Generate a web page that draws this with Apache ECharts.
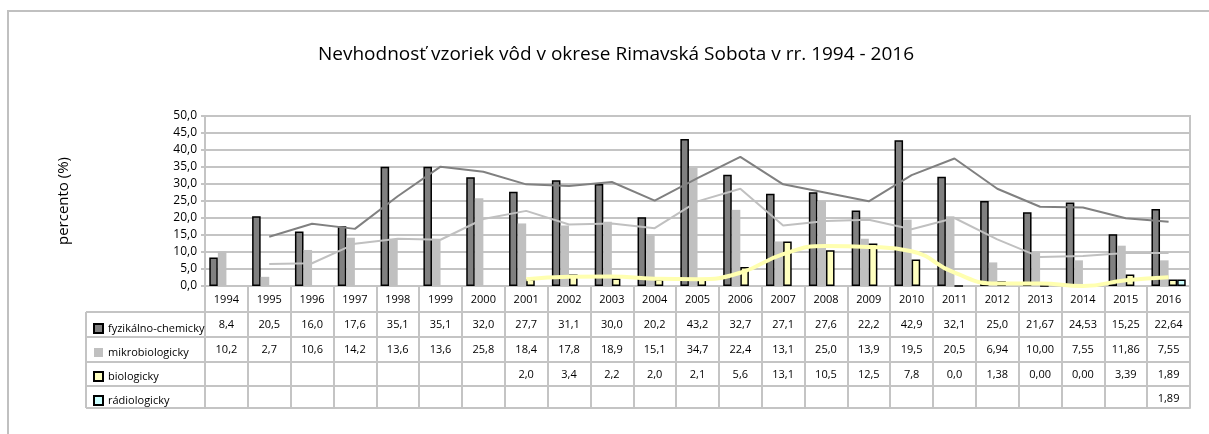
<!DOCTYPE html>
<html>
<head>
<meta charset="utf-8">
<script src="https://cdn.jsdelivr.net/npm/echarts@6/dist/echarts.min.js"></script>
<style>
  html, body { margin: 0; padding: 0; background: #fff; }
  #main { width: 1209px; height: 434px; }
</style>
</head>
<body>
<div id="main"></div>
<script>
var years = ['1994','1995','1996','1997','1998','1999','2000','2001','2002','2003','2004','2005','2006','2007','2008','2009','2010','2011','2012','2013','2014','2015','2016'];

// hodnoty z tabulky (tak ako su zapisane)
var fyzText = ['8,4','20,5','16,0','17,6','35,1','35,1','32,0','27,7','31,1','30,0','20,2','43,2','32,7','27,1','27,6','22,2','42,9','32,1','25,0','21,67','24,53','15,25','22,64'];
var mikroText = ['10,2','2,7','10,6','14,2','13,6','13,6','25,8','18,4','17,8','18,9','15,1','34,7','22,4','13,1','25,0','13,9','19,5','20,5','6,94','10,00','7,55','11,86','7,55'];
var bioText = ['','','','','','','','2,0','3,4','2,2','2,0','2,1','5,6','13,1','10,5','12,5','7,8','0,0','1,38','0,00','0,00','3,39','1,89'];
var radioText = ['','','','','','','','','','','','','','','','','','','','','','','1,89'];

// trendove ciary (odcitane z grafu)
var fyzTrend = [null,14.5,18.3,16.8,26.4,35.1,33.6,29.9,29.4,30.6,25.1,31.7,38.0,29.9,27.4,24.9,32.6,37.5,28.6,23.3,23.1,19.9,18.9];
var mikroTrend = [null,6.5,6.7,12.4,13.9,13.6,19.7,22.1,18.1,18.4,17.0,24.9,28.6,17.8,19.1,19.5,16.7,20.0,13.7,8.5,8.8,9.7,9.7];
var bioTrend = [null,null,null,null,null,null,null,2.0,2.7,2.8,2.1,2.0,3.9,9.4,11.8,11.5,10.2,3.9,0.7,0.7,0.0,1.7,2.6];

var yTicks = [0, 50, 5];

var seriesNames = ['fyzikálno-chemicky','mikrobiologicky','biologicky','rádiologicky'];

function toNum(arr){
  return arr.map(function(s){
    if(s === '') return null;
    return parseFloat(s.replace(',', '.'));
  });
}

var font = '"Open Sans", "Noto Sans", sans-serif';
var lineGray = '#c4c4c4';

// riadky tabulky pod grafom
var rowOffsets = [26, 51, 76, 100];
var rowHeights = [25, 25, 24, 22];
var rowTexts = [fyzText, mikroText, bioText, radioText];

var xAxes = [{
  type: 'category',
  data: years,
  position: 'bottom',
  axisLine: { lineStyle: { color: lineGray, width: 2 } },
  axisTick: { show: true, interval: 0, length: 26, lineStyle: { color: lineGray, width: 2 } },
  axisLabel: { interval: 0, margin: 8, fontSize: 11, color: '#000', fontFamily: font }
}];
for (var r = 0; r < rowTexts.length; r++) {
  xAxes.push({
    type: 'category',
    data: rowTexts[r],
    position: 'bottom',
    offset: rowOffsets[r],
    axisLine: { lineStyle: { color: lineGray, width: 2 } },
    axisTick: { show: true, interval: 0, length: rowHeights[r], lineStyle: { color: lineGray, width: 2 } },
    axisLabel: { interval: 0, margin: 7, fontSize: 11, color: '#000', fontFamily: font }
  });
}
// spodna ciara tabulky
xAxes.push({
  type: 'category',
  data: years,
  position: 'bottom',
  offset: 122,
  axisLine: { lineStyle: { color: lineGray, width: 2 } },
  axisTick: { show: false },
  axisLabel: { show: false }
});

var chart = echarts.init(document.getElementById('main'));

var leftLines = [];
var ys = [312, 337, 362, 386, 408];
for (var i = 0; i < ys.length; i++) {
  leftLines.push({
    type: 'line',
    shape: { x1: 86, y1: ys[i], x2: 205, y2: ys[i] },
    style: { stroke: lineGray, lineWidth: 2 }
  });
}
leftLines.push({
  type: 'line',
  shape: { x1: 86, y1: 312, x2: 86, y2: 408 },
  style: { stroke: lineGray, lineWidth: 2 }
});
leftLines.push({
  type: 'rect',
  shape: { x: 8, y: 11, width: 1300, height: 500 },
  style: { stroke: '#c0c0c0', lineWidth: 2, fill: 'none' }
});

var option = {
  animation: false,
  backgroundColor: '#fff',
  title: {
    text: 'Nevhodnosť vzoriek vôd v okrese Rimavská Sobota v rr. 1994 - 2016',
    left: 313,
    top: 40,
    textStyle: { fontSize: 19, fontWeight: 'normal', color: '#000', fontFamily: font }
  },
  legend: {
    orient: 'vertical',
    left: 88,
    top: 318,
    itemGap: 13,
    itemWidth: 9,
    itemHeight: 9,
    icon: 'rect',
    data: seriesNames,
    textStyle: { fontSize: 11, color: '#000', fontFamily: font }
  },
  grid: {
    left: 205,
    right: 19,
    top: 116,
    bottom: 148,
    show: true,
    borderColor: lineGray,
    borderWidth: 2
  },
  xAxis: xAxes,
  yAxis: {
    type: 'value',
    min: yTicks[0],
    max: yTicks[1],
    interval: yTicks[2],
    name: 'percento (%)',
    nameLocation: 'middle',
    nameGap: 134,
    nameTextStyle: { fontSize: 15, color: '#000', fontFamily: font },
    axisLine: { show: true, lineStyle: { color: lineGray, width: 2 } },
    axisTick: { show: true, length: 4, lineStyle: { color: lineGray, width: 2 } },
    axisLabel: {
      fontSize: 12, color: '#000', fontFamily: font, margin: 8,
      formatter: function(v){ return v.toFixed(1).replace('.', ','); }
    },
    splitLine: { lineStyle: { color: lineGray, width: 2 } }
  },
  graphic: leftLines,
  series: [
    {
      name: seriesNames[0], type: 'bar', data: toNum(fyzText),
      barGap: 0, barCategoryGap: '20%',
      itemStyle: { color: '#808080', borderColor: '#000', borderWidth: 1.5 }
    },
    {
      name: seriesNames[1], type: 'bar', data: toNum(mikroText),
      barGap: 0, barCategoryGap: '20%',
      itemStyle: { color: '#c0c0c0' }
    },
    {
      name: seriesNames[2], type: 'bar', data: toNum(bioText),
      barGap: 0, barCategoryGap: '20%',
      itemStyle: { color: '#ffffc0', borderColor: '#000', borderWidth: 1.5 }
    },
    {
      name: seriesNames[3], type: 'bar', data: toNum(radioText),
      barGap: 0, barCategoryGap: '20%',
      itemStyle: { color: '#ccffff', borderColor: '#000', borderWidth: 1.5 }
    },
    {
      name: 'trend fyz', type: 'line', data: fyzTrend, symbol: 'none', z: 5,
      lineStyle: { color: '#808080', width: 2 }
    },
    {
      name: 'trend mikro', type: 'line', data: mikroTrend, symbol: 'none', z: 5,
      lineStyle: { color: '#c0c0c0', width: 2 }
    },
    {
      name: 'trend bio', type: 'line', data: bioTrend, symbol: 'none', z: 5, smooth: 0.5,
      lineStyle: { color: '#ffffb0', width: 4 }
    }
  ]
};

chart.setOption(option);
</script>
</body>
</html>
